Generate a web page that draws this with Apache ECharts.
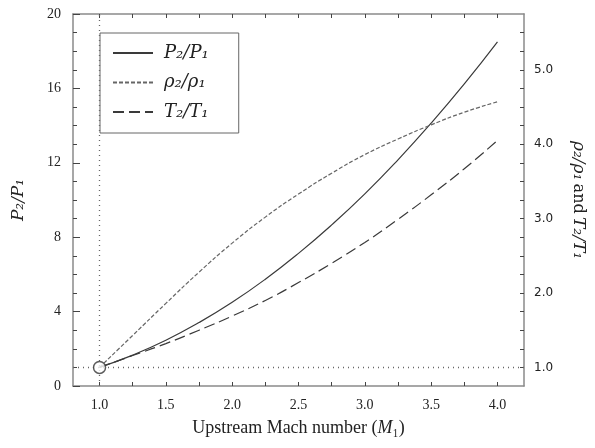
<!DOCTYPE html>
<html>
<head>
<meta charset="utf-8">
<script src="https://cdn.jsdelivr.net/npm/echarts@6/dist/echarts.min.js"></script>
<style>
	html, body { margin: 0; padding: 0; background: #fff; }
	#chart { width: 595px; height: 448px; }
</style>
</head>
<body>
<div id="chart"></div>
<script>
// Upstream Mach number samples
const mach = [1.0, 1.25, 1.5, 1.75, 2.0, 2.25, 2.5, 2.75, 3.0, 3.25, 3.5, 3.75, 4.0];
// pressure ratio (left axis)
const pRatio = [1.0, 1.66, 2.46, 3.41, 4.5, 5.74, 7.13, 8.66, 10.33, 12.16, 14.13, 16.24, 18.5];
// density and temperature ratios (right axis)
const rhoRatio = [1.0, 1.43, 1.86, 2.28, 2.67, 3.02, 3.33, 3.61, 3.86, 4.07, 4.26, 4.43, 4.57];
const tRatio = [1.0, 1.16, 1.32, 1.5, 1.69, 1.9, 2.14, 2.4, 2.68, 2.99, 3.32, 3.67, 4.05];

const xLabels = [1.0, 1.5, 2.0, 2.5, 3.0, 3.5, 4.0];
const xTicks = [1.0, 1.25, 1.5, 1.75, 2.0, 2.25, 2.5, 2.75, 3.0, 3.25, 3.5, 3.75, 4.0];
const rightLabels = [1, 2, 3, 4, 5];
const rightTicks = [1, 1.25, 1.5, 1.75, 2, 2.25, 2.5, 2.75, 3, 3.25, 3.5, 3.75, 4, 4.25, 4.5, 4.75, 5, 5.25, 5.5];

function pairs(xs, ys) {
	let out = [];
	for (let i = 0; i < xs.length; i++) {
		out.push([xs[i], ys[i]]);
	}
	return out;
}

const serif = '"DejaVu Serif", "Liberation Serif", serif';
const axisGray = '#8a8a8a';

var chart = echarts.init(document.getElementById('chart'));

var option = {
	animation: false,
	grid: {
		left: 73,
		right: 69,
		top: 14,
		bottom: 62
	},
	legend: {
		orient: 'vertical',
		left: 100,
		top: 33,
		padding: [11, 30, 12, 12],
		itemWidth: 40,
		itemHeight: 14,
		itemGap: 11.5,
		borderColor: '#666',
		borderWidth: 1,
		itemStyle: { opacity: 0 },
		textStyle: {
			fontFamily: serif,
			fontStyle: 'italic',
			fontSize: 18,
			lineHeight: 18,
			color: '#222',
			padding: [0, 0, 0, 6]
		},
		data: ['P₂/P₁', 'ρ₂/ρ₁', 'T₂/T₁']
	},
	xAxis: [
		{
			type: 'value',
			min: 0.8,
			max: 4.2,
			position: 'bottom',
			name: '{n|Upstream Mach number (}{i|M}{n|₁)}',
			nameLocation: 'middle',
			nameGap: 33,
			nameTextStyle: {
				rich: {
					n: { fontFamily: '"Liberation Serif", serif', fontSize: 18, color: '#222' },
					i: { fontFamily: '"Liberation Serif", serif', fontSize: 18, fontStyle: 'italic', color: '#222' }
				}
			},
			axisLine: { lineStyle: { color: axisGray, width: 1.5 } },
			axisTick: {
				inside: true,
				length: 4,
				customValues: xTicks,
				lineStyle: { color: '#444' }
			},
			axisLabel: {
				customValues: xLabels,
				formatter: (v) => v.toFixed(1),
				fontFamily: '"Liberation Serif", serif',
				fontSize: 14,
				color: '#222',
				margin: 12
			},
			splitLine: { show: false }
		},
		{
			type: 'value',
			min: 0.8,
			max: 4.2,
			position: 'top',
			axisLine: { show: true, lineStyle: { color: axisGray, width: 1.5 } },
			axisTick: {
				inside: true,
				length: 4,
				customValues: xTicks,
				lineStyle: { color: '#444' }
			},
			axisLabel: { show: false },
			splitLine: { show: false }
		}
	],
	yAxis: [
		{
			type: 'value',
			min: 0,
			max: 20,
			interval: 4,
			position: 'left',
			name: 'P₂/P₁',
			nameLocation: 'middle',
			nameGap: 46,
			nameTextStyle: {
				fontFamily: serif,
				fontStyle: 'italic',
				fontSize: 17,
				color: '#222'
			},
			axisLine: { show: true, lineStyle: { color: axisGray, width: 1.5 } },
			axisTick: { inside: true, length: 7, lineStyle: { color: '#444' } },
			minorTick: { show: true, splitNumber: 4, length: 4, lineStyle: { color: '#444' } },
			axisLabel: {
				fontFamily: '"Liberation Serif", serif',
				fontSize: 14,
				color: '#222',
				margin: 12
			},
			splitLine: { show: false }
		},
		{
			type: 'value',
			min: 0.75,
			max: 5.75,
			position: 'right',
			name: '{i|ρ₂/ρ₁} {n|and} {i|T₂/T₁}',
			nameLocation: 'middle',
			nameRotate: -90,
			nameGap: 46,
			nameTextStyle: {
				rich: {
					n: { fontFamily: serif, fontSize: 16, color: '#222' },
					i: { fontFamily: serif, fontSize: 17, fontStyle: 'italic', color: '#222' }
				}
			},
			axisLine: { show: true, lineStyle: { color: axisGray, width: 1.5 } },
			axisTick: {
				inside: true,
				length: 4,
				customValues: rightTicks,
				lineStyle: { color: '#444' }
			},
			axisLabel: {
				customValues: rightLabels,
				formatter: (v) => v.toFixed(1),
				fontFamily: '"DejaVu Sans", sans-serif',
				fontSize: 12,
				color: '#222',
				margin: 10
			},
			splitLine: { show: false }
		}
	],
	series: [
		{
			name: 'P₂/P₁',
			type: 'line',
			xAxisIndex: 0,
			yAxisIndex: 0,
			smooth: true,
			symbol: 'none',
			data: pairs(mach, pRatio),
			lineStyle: { color: '#3a3a3a', width: 1.2 },
			itemStyle: { color: '#3a3a3a' },
			markLine: {
				silent: true,
				symbol: 'none',
				label: { show: false },
				lineStyle: { color: '#666', type: [1, 4], width: 1.3 },
				data: [
					{ xAxis: 1 },
					{ yAxis: 1 }
				]
			}
		},
		{
			name: 'ρ₂/ρ₁',
			type: 'line',
			xAxisIndex: 0,
			yAxisIndex: 1,
			smooth: true,
			symbol: 'none',
			data: pairs(mach, rhoRatio),
			lineStyle: { color: '#666', width: 1.2, type: [4, 2] },
			itemStyle: { color: '#666' }
		},
		{
			name: 'T₂/T₁',
			type: 'line',
			xAxisIndex: 0,
			yAxisIndex: 1,
			smooth: true,
			symbol: 'none',
			data: pairs(mach, tRatio),
			lineStyle: { color: '#3a3a3a', width: 1.2, type: [11, 5] },
			itemStyle: { color: '#3a3a3a' }
		},
		{
			// open circle at the sonic point
			type: 'scatter',
			xAxisIndex: 0,
			yAxisIndex: 0,
			symbol: 'circle',
			symbolSize: 12,
			z: 10,
			data: [[1, 1]],
			itemStyle: { color: '#fff', borderColor: '#333', borderWidth: 1.5 }
		}
	]
};

chart.setOption(option);
</script>
</body>
</html>
